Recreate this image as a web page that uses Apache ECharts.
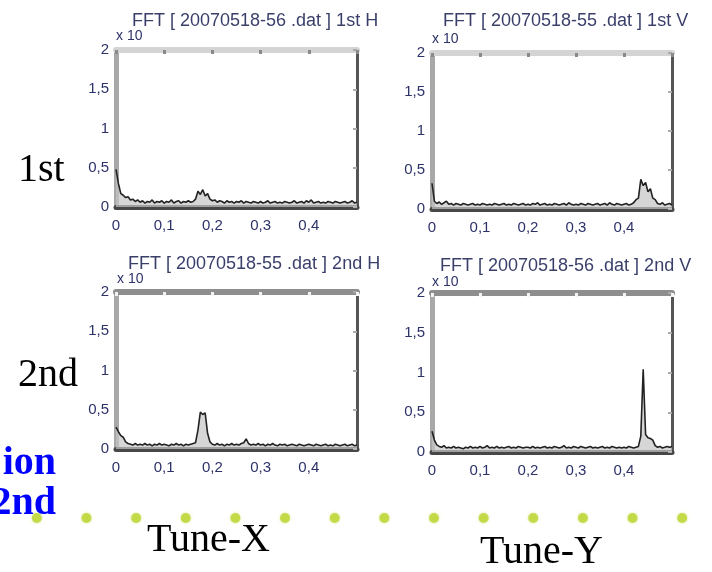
<!DOCTYPE html>
<html>
<head>
<meta charset="utf-8">
<script src="https://cdn.jsdelivr.net/npm/echarts@6/dist/echarts.min.js"></script>
<style>
  html, body { margin: 0; padding: 0; background: #fff; }
  #chart { width: 712px; height: 572px; }
</style>
</head>
<body>
<div id="chart"></div>
<script>
// FFT bins (tune units)
var freq = [
  0, 0.005, 0.01, 0.015, 0.02, 0.025, 0.03, 0.035, 0.04, 0.045,
  0.05, 0.055, 0.06, 0.065, 0.07, 0.075, 0.08, 0.085, 0.09, 0.095,
  0.1, 0.105, 0.11, 0.115, 0.12, 0.125, 0.13, 0.135, 0.14, 0.145,
  0.15, 0.155, 0.16, 0.165, 0.17, 0.175, 0.18, 0.185, 0.19, 0.195,
  0.2, 0.205, 0.21, 0.215, 0.22, 0.225, 0.23, 0.235, 0.24, 0.245,
  0.25, 0.255, 0.26, 0.265, 0.27, 0.275, 0.28, 0.285, 0.29, 0.295,
  0.3, 0.305, 0.31, 0.315, 0.32, 0.325, 0.33, 0.335, 0.34, 0.345,
  0.35, 0.355, 0.36, 0.365, 0.37, 0.375, 0.38, 0.385, 0.39, 0.395,
  0.4, 0.405, 0.41, 0.415, 0.42, 0.425, 0.43, 0.435, 0.44, 0.445,
  0.45, 0.455, 0.46, 0.465, 0.47, 0.475, 0.48, 0.485, 0.49, 0.495,
  0.5
];

// 1st turn, horizontal
var ampH1 = [
  0.48, 0.30, 0.17, 0.15, 0.12, 0.13, 0.09, 0.10, 0.07, 0.09,
  0.06, 0.08, 0.05, 0.07, 0.06, 0.09, 0.05, 0.07, 0.06, 0.08,
  0.05, 0.07, 0.06, 0.09, 0.05, 0.07, 0.08, 0.05, 0.07, 0.06,
  0.08, 0.06, 0.07, 0.10, 0.20, 0.16, 0.22, 0.14, 0.17, 0.10,
  0.08, 0.09, 0.06, 0.08, 0.07, 0.05, 0.08, 0.06, 0.07, 0.05,
  0.07, 0.06, 0.08, 0.05, 0.07, 0.06, 0.05, 0.07, 0.06, 0.05,
  0.07, 0.05, 0.06, 0.08, 0.05, 0.06, 0.07, 0.05, 0.06, 0.05,
  0.07, 0.06, 0.05, 0.06, 0.08, 0.05, 0.06, 0.07, 0.05, 0.08,
  0.06, 0.09, 0.05, 0.06, 0.07, 0.05, 0.06, 0.05, 0.07, 0.06,
  0.05, 0.07, 0.06, 0.05, 0.06, 0.07, 0.05, 0.06, 0.08, 0.05,
  0.06
];
// 1st turn, vertical
var ampV1 = [
  0.33, 0.10, 0.07, 0.09, 0.06, 0.08, 0.10, 0.06, 0.07, 0.05,
  0.07, 0.06, 0.05, 0.07, 0.06, 0.05, 0.06, 0.07, 0.05, 0.06,
  0.05, 0.07, 0.06, 0.05, 0.06, 0.05, 0.07, 0.06, 0.05, 0.06,
  0.07, 0.05, 0.06, 0.05, 0.07, 0.06, 0.05, 0.06, 0.07, 0.05,
  0.06, 0.05, 0.07, 0.06, 0.08, 0.05, 0.06, 0.07, 0.05, 0.06,
  0.05, 0.07, 0.06, 0.05, 0.06, 0.07, 0.05, 0.08, 0.06, 0.05,
  0.06, 0.05, 0.07, 0.06, 0.05, 0.07, 0.06, 0.05, 0.06, 0.07,
  0.05, 0.06, 0.07, 0.05, 0.08, 0.06, 0.05, 0.07, 0.06, 0.05,
  0.06, 0.07, 0.05, 0.06, 0.08, 0.12, 0.14, 0.38, 0.30, 0.34,
  0.22, 0.26, 0.14, 0.12, 0.07, 0.06, 0.08, 0.05, 0.06, 0.07,
  0.05
];
// 2nd turn, horizontal
var ampH2 = [
  0.28, 0.22, 0.17, 0.15, 0.09, 0.07, 0.06, 0.05, 0.07, 0.05,
  0.06, 0.05, 0.07, 0.05, 0.06, 0.04, 0.06, 0.05, 0.07, 0.05,
  0.06, 0.05, 0.04, 0.06, 0.05, 0.07, 0.05, 0.06, 0.04, 0.06,
  0.05, 0.06, 0.07, 0.08, 0.24, 0.47, 0.44, 0.46, 0.20, 0.09,
  0.06, 0.05, 0.07, 0.05, 0.06, 0.04, 0.06, 0.05, 0.07, 0.05,
  0.06, 0.05, 0.07, 0.08, 0.13, 0.07, 0.05, 0.06, 0.05, 0.07,
  0.05, 0.06, 0.04, 0.06, 0.05, 0.07, 0.05, 0.04, 0.06, 0.05,
  0.06, 0.04, 0.05, 0.06, 0.05, 0.04, 0.06, 0.05, 0.04, 0.05,
  0.06, 0.05, 0.04, 0.06, 0.05, 0.04, 0.05, 0.06, 0.04, 0.05,
  0.04, 0.06, 0.05, 0.04, 0.05, 0.06, 0.04, 0.05, 0.06, 0.04,
  0.05
];
// 2nd turn, vertical
var ampV2 = [
  0.26, 0.15, 0.09, 0.07, 0.06, 0.08, 0.05, 0.06, 0.05, 0.07,
  0.05, 0.06, 0.05, 0.04, 0.06, 0.05, 0.07, 0.05, 0.06, 0.05,
  0.07, 0.05, 0.06, 0.08, 0.05, 0.06, 0.05, 0.07, 0.05, 0.06,
  0.05, 0.06, 0.07, 0.05, 0.06, 0.05, 0.07, 0.06, 0.05, 0.06,
  0.06, 0.05, 0.07, 0.05, 0.06, 0.05, 0.06, 0.07, 0.05, 0.06,
  0.05, 0.07, 0.06, 0.05, 0.06, 0.08, 0.05, 0.06, 0.05, 0.07,
  0.06, 0.05, 0.07, 0.06, 0.05, 0.06, 0.07, 0.05, 0.06, 0.05,
  0.06, 0.07, 0.05, 0.06, 0.05, 0.07, 0.06, 0.05, 0.06, 0.05,
  0.06, 0.05, 0.07, 0.06, 0.05, 0.06, 0.07, 0.20, 1.04, 0.22,
  0.18, 0.17, 0.15, 0.08, 0.06, 0.07, 0.05, 0.06, 0.07, 0.06,
  0.07
];

var panelTitles = [
  'FFT [ 20070518-56 .dat ] 1st H',
  'FFT [ 20070518-55 .dat ] 1st V',
  'FFT [ 20070518-55 .dat ] 2nd H',
  'FFT [ 20070518-56 .dat ] 2nd V'
];
var yTicks = ['0', '0,5', '1', '1,5', '2'];
var xTicks = ['0', '0,1', '0,2', '0,3', '0,4', ''];

// bullet row under the plots
var dotSlots = ['a','b','c','d','e','f','g','h','i','j','k','l','m','n'];
var dotLevel = [1, 1, 1, 1, 1, 1, 1, 1, 1, 1, 1, 1, 1, 1];

var panels = [
  { amp: ampH1, left: 116, top: 50, width: 241, height: 157, band: '#d4d4d4', tick: '#8a8a8a' },
  { amp: ampV1, left: 432, top: 53, width: 240, height: 156, band: '#d4d4d4', tick: '#8a8a8a' },
  { amp: ampH2, left: 116, top: 292, width: 241, height: 157, band: '#8e8e8e', tick: '#f4f4f4' },
  { amp: ampV2, left: 432, top: 293, width: 240, height: 159, band: '#8e8e8e', tick: '#f4f4f4' }
];

var labelFont = '"Liberation Sans", Arial, sans-serif';
var labelColor = '#2d3268';

var grid = [], xAxis = [], yAxis = [], series = [];
panels.forEach(function (p, g) {
  grid.push({
    left: p.left, top: p.top, width: p.width, height: p.height,
    show: true, borderColor: '#555', borderWidth: 1
  });
  // bottom axis with labels
  xAxis.push({
    gridIndex: g, type: 'value', min: 0, max: 0.5, interval: 0.1,
    axisLine: { show: true, onZero: false, lineStyle: { color: '#474747', width: 5 } },
    axisTick: { show: false },
    splitLine: { show: false },
    axisLabel: {
      margin: 11, fontSize: 15, fontFamily: labelFont, color: labelColor,
      formatter: function (v) { return xTicks[Math.round(v * 10)]; }
    }
  });
  // top frame band
  xAxis.push({
    gridIndex: g, type: 'value', position: 'top', min: 0, max: 0.5, interval: 0.1,
    axisLine: { show: true, onZero: false, lineStyle: { color: p.band, width: 6 } },
    axisTick: { show: true, inside: true, length: 4, lineStyle: { color: p.tick, width: 3 } },
    splitLine: { show: false },
    axisLabel: { show: false }
  });
  yAxis.push({
    gridIndex: g, type: 'value', min: 0, max: 2, interval: 0.5,
    axisLine: { show: true, onZero: false, lineStyle: { color: '#a8a8a8', width: 5 } },
    axisTick: { show: false },
    splitLine: { show: false },
    axisLabel: {
      margin: 7, fontSize: 15, fontFamily: labelFont, color: labelColor,
      formatter: function (v) { return yTicks[Math.round(v * 2)]; }
    }
  });
  yAxis.push({
    gridIndex: g, type: 'value', position: 'right', min: 0, max: 2, interval: 0.5,
    axisLine: { show: true, onZero: false, lineStyle: { color: '#555', width: 3 } },
    axisTick: { show: true, inside: true, length: 4, lineStyle: { color: '#aaa', width: 2 } },
    splitLine: { show: false },
    axisLabel: { show: false }
  });
  var pts = [];
  for (var i = 0; i < freq.length; i++) pts.push([freq[i], p.amp[i]]);
  series.push({
    type: 'line', xAxisIndex: 2 * g, yAxisIndex: 2 * g,
    data: pts, symbol: 'none', silent: true,
    lineStyle: { color: '#222', width: 1.6 },
    areaStyle: { color: '#c4c4c4', opacity: 0.7 },
    z: 1
  });
});

// hidden grid for the bullet row
grid.push({ left: 12, right: 5, top: 507, height: 22 });
xAxis.push({ gridIndex: 4, type: 'category', data: dotSlots, show: false });
yAxis.push({ gridIndex: 4, type: 'value', min: 0, max: 2, show: false });
series.push({
  type: 'scatter', xAxisIndex: 8, yAxisIndex: 8, data: dotLevel,
  symbolSize: 10, silent: true,
  itemStyle: { color: '#bbd432', shadowColor: '#d6e67a', shadowBlur: 3 }
});

function txt(x, y, text, size, opt) {
  opt = opt || {};
  return {
    type: 'text', x: x, y: y, silent: true, z: 100,
    style: {
      text: text, fontSize: size,
      fontFamily: opt.family || labelFont,
      fontWeight: opt.weight || 'normal',
      fill: opt.color || '#000',
      align: opt.align || 'left',
      verticalAlign: opt.valign || 'top'
    }
  };
}

var serif = '"Liberation Serif", "Times New Roman", serif';
var graphics = [
  txt(132, 12, panelTitles[0], 18, { color: '#3a3f6a' }),
  txt(443, 12, panelTitles[1], 18, { color: '#3a3f6a' }),
  txt(128, 255, panelTitles[2], 18, { color: '#3a3f6a' }),
  txt(440, 257, panelTitles[3], 18, { color: '#3a3f6a' }),
  txt(116, 29, 'x 10', 14, { color: labelColor }),
  txt(432, 32, 'x 10', 14, { color: labelColor }),
  txt(117, 272, 'x 10', 14, { color: labelColor }),
  txt(432, 275, 'x 10', 14, { color: labelColor }),
  txt(18, 170, '1st', 40, { family: serif, valign: 'middle' }),
  txt(18, 375, '2nd', 40, { family: serif, valign: 'middle' }),
  txt(147, 540, 'Tune-X', 40, { family: serif, valign: 'middle' }),
  txt(480, 552, 'Tune-Y', 40, { family: serif, valign: 'middle' }),
  txt(56, 464, 'ion', 40, { family: serif, weight: 'bold', color: '#0000ff', align: 'right', valign: 'middle' }),
  txt(56, 504, '2nd', 40, { family: serif, weight: 'bold', color: '#0000ff', align: 'right', valign: 'middle' })
];

var myChart = echarts.init(document.getElementById('chart'), null, { renderer: 'canvas' });
myChart.setOption({
  animation: false,
  backgroundColor: '#fff',
  grid: grid,
  xAxis: xAxis,
  yAxis: yAxis,
  series: series,
  graphic: graphics
});
</script>
</body>
</html>
